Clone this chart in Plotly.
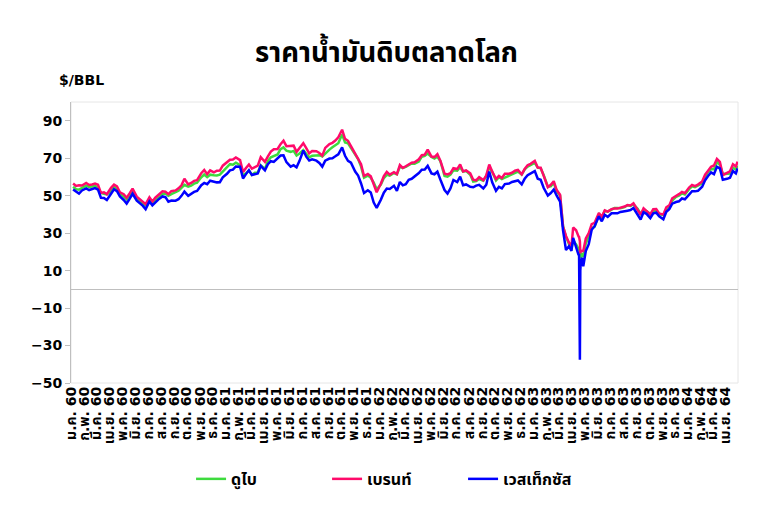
import plotly.graph_objects as go
import pandas as pd

# ---------------- data ----------------
thai_months = ["ม.ค.", "ก.พ.", "มี.ค.", "เม.ย.", "พ.ค.", "มิ.ย.",
               "ก.ค.", "ส.ค.", "ก.ย.", "ต.ค.", "พ.ย.", "ธ.ค."]
years = [2017, 2018, 2019, 2020, 2021]
be_years = ["60", "61", "62", "63", "64"]
week_days = [4, 11, 18, 25]

series_names = ["ดูไบ", "เบรนท์", "เวสเท็กซัส"]

# weekly readings, Jan 2017 .. Apr 2021 (4 per month)
brent = [
    56.5, 55.2, 55.5, 55.4, 56.8, 55.7, 56.0, 56.5, 55.8, 51.5, 51.8, 50.8,
    54.2, 55.9, 54.9, 51.8, 50.8, 48.9, 51.2, 53.8, 49.5, 48.2, 47.0, 45.5,
    49.1, 46.9, 48.9, 50.5, 52.3, 52.1, 50.8, 52.4, 52.8, 53.9, 55.5, 59.0,
    56.0, 56.8, 57.9, 58.3, 62.0, 63.7, 61.5, 63.5, 62.4, 63.3, 63.4, 66.0,
    68.0, 69.2, 69.3, 70.4, 69.0, 62.6, 64.8, 66.6, 64.4, 65.3, 66.0, 70.5,
    68.0, 71.0, 73.5, 74.8, 74.9, 77.5, 79.3, 76.4, 76.8, 76.7, 73.4, 75.3,
    78.0, 75.4, 72.6, 73.8, 73.7, 72.8, 71.4, 75.5, 77.5, 78.2, 79.4, 81.2,
    85.2, 80.3, 79.3, 76.4, 72.6, 70.1, 66.8, 60.5, 61.6, 60.3, 56.3, 51.8,
    56.5, 60.4, 62.7, 61.2, 62.5, 61.5, 66.3, 64.8, 65.7, 66.6, 67.6, 67.8,
    69.4, 71.6, 71.9, 74.6, 70.9, 70.6, 72.2, 68.7, 61.7, 61.3, 62.0, 64.7,
    64.2, 66.7, 62.9, 63.5, 61.9, 58.5, 58.2, 59.9, 58.3, 60.8, 66.6, 62.9,
    58.9, 60.5, 59.4, 61.7, 61.7, 62.2, 63.3, 63.7, 61.4, 64.2, 66.2, 67.0,
    68.6, 65.0, 64.9, 60.7, 54.5, 55.8, 57.7, 53.0, 50.5, 33.5, 28.5, 25.0,
    33.0, 31.5, 28.0, 20.5, 27.2, 30.0, 34.8, 35.5, 40.8, 38.7, 42.2, 41.5,
    42.8, 43.2, 43.1, 43.4, 44.2, 45.0, 44.8, 45.9, 42.7, 39.8, 43.3, 41.9,
    40.0, 42.8, 42.9, 40.5, 39.9, 43.8, 44.8, 48.6, 49.7, 50.8, 52.0, 51.3,
    54.3, 55.7, 55.1, 55.9, 57.6, 61.2, 63.3, 65.4, 66.1, 69.6, 68.0, 61.0,
    62.2, 63.0, 66.8, 65.6,
]
dubai = [
    54.8, 53.5, 53.2, 54.0, 55.3, 54.7, 54.8, 55.2, 54.2, 51.5, 51.0, 50.7,
    52.3, 54.6, 53.3, 50.8, 49.5, 48.0, 50.2, 52.3, 48.5, 47.2, 45.6, 44.9,
    47.5, 45.9, 47.4, 48.7, 50.9, 51.2, 49.9, 50.8, 51.9, 52.6, 54.2, 55.8,
    54.8, 55.3, 56.4, 56.9, 59.8, 61.3, 59.9, 61.2, 60.9, 60.8, 61.2, 63.0,
    65.3, 66.8, 66.5, 67.6, 66.3, 60.7, 62.0, 63.4, 61.2, 62.2, 62.3, 66.2,
    64.3, 68.5, 70.5, 71.0, 72.0, 74.8, 75.8, 74.0, 73.4, 73.9, 71.4, 72.5,
    74.3, 72.4, 70.5, 71.3, 71.5, 71.6, 70.9, 72.6, 74.6, 75.8, 76.7, 78.0,
    82.6, 78.4, 78.0, 75.5, 71.5, 69.6, 65.5, 59.6, 60.7, 59.5, 57.0, 53.4,
    55.9, 59.4, 61.1, 60.7, 62.1, 61.4, 65.4, 64.8, 65.4, 66.3, 67.2, 67.1,
    68.2, 70.8, 71.3, 72.5, 70.6, 69.8, 70.8, 68.5, 60.5, 60.1, 61.2, 63.6,
    63.3, 65.2, 62.9, 63.2, 61.1, 57.5, 57.8, 58.9, 58.0, 60.4, 65.2, 62.8,
    58.1, 59.9, 58.9, 59.6, 60.8, 61.6, 62.4, 62.9, 61.2, 64.0, 65.5, 66.3,
    67.5, 64.9, 64.6, 61.0, 54.8, 55.0, 56.8, 52.4, 50.0, 33.8, 28.0, 24.2,
    26.0, 24.0, 21.5, 18.5, 24.5, 28.5, 32.5, 33.5, 40.0, 38.5, 41.8, 41.5,
    42.5, 43.4, 43.4, 43.3, 43.9, 44.9, 44.5, 45.3, 43.0, 40.3, 42.1, 41.7,
    40.2, 41.6, 41.9, 40.2, 39.6, 42.5, 44.0, 47.3, 49.4, 50.0, 51.2, 50.6,
    53.5, 55.0, 54.5, 55.2, 56.6, 59.9, 62.7, 64.1, 64.1, 68.0, 66.5, 61.5,
    61.5, 61.8, 65.0, 64.0,
]
wti = [
    53.3, 52.3, 51.1, 52.8, 53.9, 53.0, 53.3, 54.0, 53.2, 48.9, 48.8, 47.7,
    51.0, 53.4, 52.4, 49.6, 47.7, 45.8, 48.3, 51.0, 47.3, 46.2, 44.7, 42.8,
    46.9, 44.8, 46.5, 47.9, 49.6, 49.2, 46.8, 47.4, 47.3, 48.1, 49.9, 52.2,
    49.9, 51.1, 52.0, 52.5, 55.6, 56.8, 56.1, 58.0, 57.4, 57.1, 57.2, 59.8,
    61.7, 63.5, 63.9, 65.6, 65.5, 59.2, 61.5, 63.6, 61.0, 61.4, 61.9, 65.9,
    63.5, 66.8, 68.4, 68.0, 69.7, 71.4, 71.5, 67.9, 65.5, 66.3, 65.1, 68.6,
    74.1, 70.8, 68.8, 69.4, 68.7, 67.5, 65.5, 68.7, 69.8, 70.0, 71.0, 72.1,
    75.8, 71.3, 68.6, 67.6, 62.9, 60.7, 56.5, 51.4, 52.9, 51.7, 46.3, 43.5,
    47.9, 51.6, 53.8, 53.6, 55.3, 52.6, 57.3, 55.5, 56.1, 58.5, 59.0, 60.1,
    62.1, 63.9, 64.0, 65.9, 61.9, 61.4, 62.8, 58.6, 53.0, 51.1, 53.9, 58.4,
    57.3, 60.2, 55.6, 56.0, 54.7, 54.5, 55.4, 55.8, 53.9, 55.8, 62.9, 57.1,
    52.6, 54.7, 53.9, 56.2, 56.5, 57.3, 57.8, 58.1, 56.0, 59.0, 60.9, 61.7,
    63.1, 59.0, 58.5, 54.2, 50.1, 51.4, 53.3, 50.0, 46.8, 31.5, 21.0, 23.0,
    27.5, 22.5, 19.0, 16.9, 20.4, 24.1, 31.8, 33.7, 39.0, 36.3, 39.8, 38.7,
    40.6, 40.6, 40.6, 41.3, 41.9, 42.0, 42.3, 43.4, 39.8, 37.3, 41.1, 40.3,
    38.0, 40.6, 40.9, 39.0, 37.4, 41.4, 42.8, 45.7, 46.6, 47.0, 48.5, 48.1,
    50.6, 52.4, 52.3, 52.6, 54.8, 58.2, 60.5, 62.4, 61.5, 65.4, 64.6, 58.5,
    59.0, 59.6, 63.2, 61.9,
]

# extra daily readings around the April 2020 collapse and the last day
extra_dates = ["2020-03-31", "2020-04-17", "2020-04-20", "2020-04-21",
               "2020-04-22", "2020-04-28", "2021-04-29"]
extra_brent = [22.8, 28.1, 25.6, 19.3, 20.4, 20.5, 68.2]
extra_dubai = [22.0, 21.5, 20.0, 17.5, 16.5, 18.0, 66.0]
extra_wti = [20.5, 18.3, -37.6, 10.0, 13.8, 12.3, 64.6]

y_ticks = [-50, -30, -10, 10, 30, 50, 70, 90]

# ---------------- assemble ----------------
dates = [pd.Timestamp(y, m, d) for y in years for m in range(1, 13)
         for d in week_days if not (y == 2021 and m > 4)]
df = pd.DataFrame({"date": dates, "brent": brent, "dubai": dubai, "wti": wti})
ex = pd.DataFrame({"date": pd.to_datetime(extra_dates), "brent": extra_brent,
                   "dubai": extra_dubai, "wti": extra_wti})
df = pd.concat([df, ex]).sort_values("date").reset_index(drop=True)

tick_vals, tick_text = [], []
for yi, y in enumerate(years):
    for m in range(1, 13):
        if y == 2021 and m > 4:
            break
        tick_vals.append(pd.Timestamp(y, m, 1))
        tick_text.append(f"{thai_months[m-1]} {be_years[yi]}")

colors = ["#3EDB3E", "#FF0A6A", "#0000FF"]
cols = ["dubai", "brent", "wti"]

fig = go.Figure()
for name, col, c in zip(series_names, cols, colors):
    fig.add_trace(go.Scatter(x=df["date"], y=df[col], mode="lines", name=name,
                             line=dict(color=c, width=2.5)))

thai_font = "Tahoma, 'DejaVu Sans', 'Noto Sans Thai', sans-serif"

# page has an 8px body margin, so the figure is 765x512 drawn at (8, 8)
fig.update_layout(
    width=765, height=512,
    margin=dict(l=63, r=35, t=94, b=137),
    paper_bgcolor="white", plot_bgcolor="white",
    title=dict(text="<b>ราคาน้ำมันดิบตลาดโลก</b>", x=0.4948, xanchor="center",
               y=0.914, yanchor="middle",
               font=dict(family=thai_font, size=27.5, color="black")),
    showlegend=True,
    legend=dict(orientation="h", x=0.18, xanchor="left", y=-0.281, yanchor="top",
                font=dict(family=thai_font, size=16, color="black", weight="bold"),
                entrywidth=91, entrywidthmode="pixels", itemwidth=30,
                bgcolor="rgba(0,0,0,0)"),
    annotations=[dict(text="<b>$/BBL</b>", xref="paper", yref="paper",
                      x=-0.021, y=1.078, xanchor="left", yanchor="middle",
                      showarrow=False,
                      font=dict(family="DejaVu Sans", size=14, color="black"))],
    shapes=[dict(type="rect", xref="paper", yref="paper", x0=0, x1=1, y0=0, y1=1,
                 line=dict(color="#E6E6E6", width=1), layer="below")],
)

fig.update_xaxes(
    type="date",
    range=[pd.Timestamp(2016, 12, 30), pd.Timestamp(2021, 4, 30)],
    tickmode="array", tickvals=tick_vals, ticktext=tick_text,
    tickangle=-90, showgrid=False, zeroline=False, showline=False,
    ticks="", tickfont=dict(family=thai_font, size=14, color="black", weight="bold"),
)
fig.update_yaxes(
    range=[-50, 100], tickmode="array", tickvals=y_ticks,
    showgrid=False, zeroline=True, zerolinecolor="#BFBFBF", zerolinewidth=1,
    showline=True, linecolor="#BFBFBF", linewidth=1,
    ticks="outside", ticklen=5, tickcolor="#BFBFBF",
    tickfont=dict(family="DejaVu Sans", size=14, color="black", weight="bold"),
)

fig.write_html("out.html")
